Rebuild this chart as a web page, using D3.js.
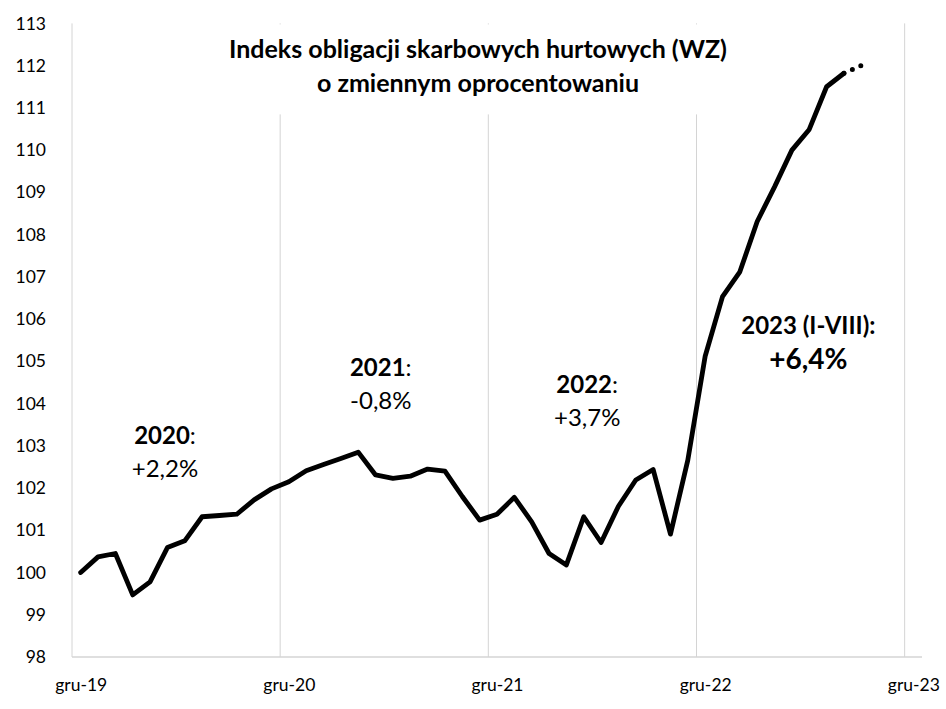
<!DOCTYPE html>
<html>
<head>
<meta charset="utf-8">
<script src="https://cdn.jsdelivr.net/npm/d3@7"></script>
<style>
  html, body { margin: 0; padding: 0; background: #fff; }
  svg { display: block; font-family: Lato, "Open Sans", sans-serif; }
</style>
</head>
<body>
<svg id="chart" width="946" height="709"></svg>
<script>
// ---- data ----
// monthly index values, Dec 2019 (index 0) ... Aug 2023 (index 44)
const values = [
  100.00, 100.37, 100.45, 99.47, 99.78, 100.59, 100.75, 101.32, 101.35, 101.38, 101.72, 101.98,
  102.15, 102.41, 102.56, 102.70, 102.85, 102.31, 102.23, 102.28, 102.45, 102.40, 101.80, 101.24,
  101.38, 101.78, 101.20, 100.45, 100.18, 101.32, 100.71, 101.57, 102.19, 102.44, 100.91, 102.66,
  105.12, 106.53, 107.12, 108.31, 109.13, 110.00, 110.49, 111.50, 111.82
];
// estimate for the next month (dotted)
const estimate = [112.00];
const xTickLabels = ["gru-19", "gru-20", "gru-21", "gru-22", "gru-23"];
const xTickMonths = [0, 12, 24, 36, 48];
const yTicks = [98, 99, 100, 101, 102, 103, 104, 105, 106, 107, 108, 109, 110, 111, 112, 113];
const titleLines = ["Indeks obligacji skarbowych hurtowych (WZ)", "o zmiennym oprocentowaniu"];
const annYears = ["2020", "2021", "2022", "2023 (I-VIII)"];
const annChanges = ["+2,2%", "-0,8%", "+3,7%", "+6,4%"];
const annMonth = [5.36, 17.8, 29.7, 42.45];        // horizontal anchor (months)
const annValue = [103.04, 104.65, 104.25, 105.65]; // vertical anchor (index value)

// ---- layout ----
const svg = d3.select("#chart");
const pLeft = 72, pRight = 922, pTop = 23.4, pBottom = 657;
const x = d3.scaleLinear().domain([0, 49]).range([pLeft, pRight]);
const y = d3.scaleLinear().domain([98, 113]).range([pBottom, pTop]);
const axisColor = "#d4d4d4";
const font = "Lato, 'Open Sans', sans-serif";

svg.append("rect").attr("width", 946).attr("height", 709).attr("fill", "#fff");

// vertical gridlines at year boundaries
svg.append("g").selectAll("line").data(xTickMonths.slice(1)).join("line")
  .attr("x1", d => x(d)).attr("x2", d => x(d))
  .attr("y1", y(113)).attr("y2", y(98))
  .attr("stroke", axisColor).attr("stroke-width", 1);

// y axis line
svg.append("line").attr("x1", x(0)).attr("x2", x(0)).attr("y1", y(113)).attr("y2", y(98))
  .attr("stroke", axisColor).attr("stroke-width", 1);
// x axis line
svg.append("line").attr("x1", x(0)).attr("x2", x(49)).attr("y1", y(98)).attr("y2", y(98))
  .attr("stroke", axisColor).attr("stroke-width", 1.3);

// y axis labels
const yAxis = d3.axisLeft(y).tickValues(yTicks).tickSize(0).tickPadding(26).tickFormat(d3.format("d"));
const gy = svg.append("g").attr("transform", `translate(${pLeft},0)`).call(yAxis);
gy.select(".domain").remove();
gy.selectAll("text").attr("font-family", font).attr("font-size", 17.5).attr("fill", "#000");

// x axis labels (centered on the December slot)
const xAxis = d3.axisBottom(x).tickValues(xTickMonths.map(m => m + 0.5)).tickSize(0).tickPadding(22)
  .tickFormat((d, i) => xTickLabels[i]);
const gx = svg.append("g").attr("transform", `translate(0,${pBottom})`).call(xAxis);
gx.select(".domain").remove();
gx.selectAll("text").attr("font-family", font).attr("font-size", 17.5).attr("fill", "#000");

// title box (covers gridlines)
svg.append("rect").attr("x", 200).attr("y", pTop + 1).attr("width", 560).attr("height", 90).attr("fill", "#fff");
svg.append("g").selectAll("text").data(titleLines).join("text")
  .attr("x", 478).attr("y", (d, i) => 58 + i * 34)
  .attr("text-anchor", "middle").attr("font-family", font).attr("font-weight", "bold")
  .attr("font-size", 25).attr("fill", "#000").text(d => d);

// main line
const line = d3.line().x((d, i) => x(i + 0.5)).y(d => y(d));
svg.append("path").datum(values).attr("d", line)
  .attr("fill", "none").attr("stroke", "#000").attr("stroke-width", 4.8)
  .attr("stroke-linejoin", "round").attr("stroke-linecap", "round");

// dotted estimate
const estData = [values[values.length - 1]].concat(estimate);
const estLine = d3.line().x((d, i) => x(values.length - 1 + i + 0.5)).y(d => y(d));
svg.append("path").datum(estData).attr("d", estLine)
  .attr("fill", "none").attr("stroke", "#000").attr("stroke-width", 5)
  .attr("stroke-linecap", "round").attr("stroke-dasharray", "0 9.2");

// annotations
const ann = svg.append("g");
annYears.forEach((yr, i) => {
  const big = i === 3;
  const t1 = ann.append("text").attr("x", x(annMonth[i])).attr("y", y(annValue[i]))
    .attr("text-anchor", "middle").attr("font-family", font).attr("font-size", 24).attr("fill", "#000");
  t1.append("tspan").attr("font-weight", "bold").text(yr);
  t1.append("tspan").attr("font-weight", big ? "bold" : "normal").text(":");
  ann.append("text").attr("x", x(annMonth[i])).attr("y", y(annValue[i]) + (big ? 35 : 32.5))
    .attr("text-anchor", "middle").attr("font-family", font)
    .attr("font-size", big ? 28 : 24).attr("font-weight", big ? "bold" : "normal")
    .attr("fill", "#000").text(annChanges[i]);
});
</script>
</body>
</html>
